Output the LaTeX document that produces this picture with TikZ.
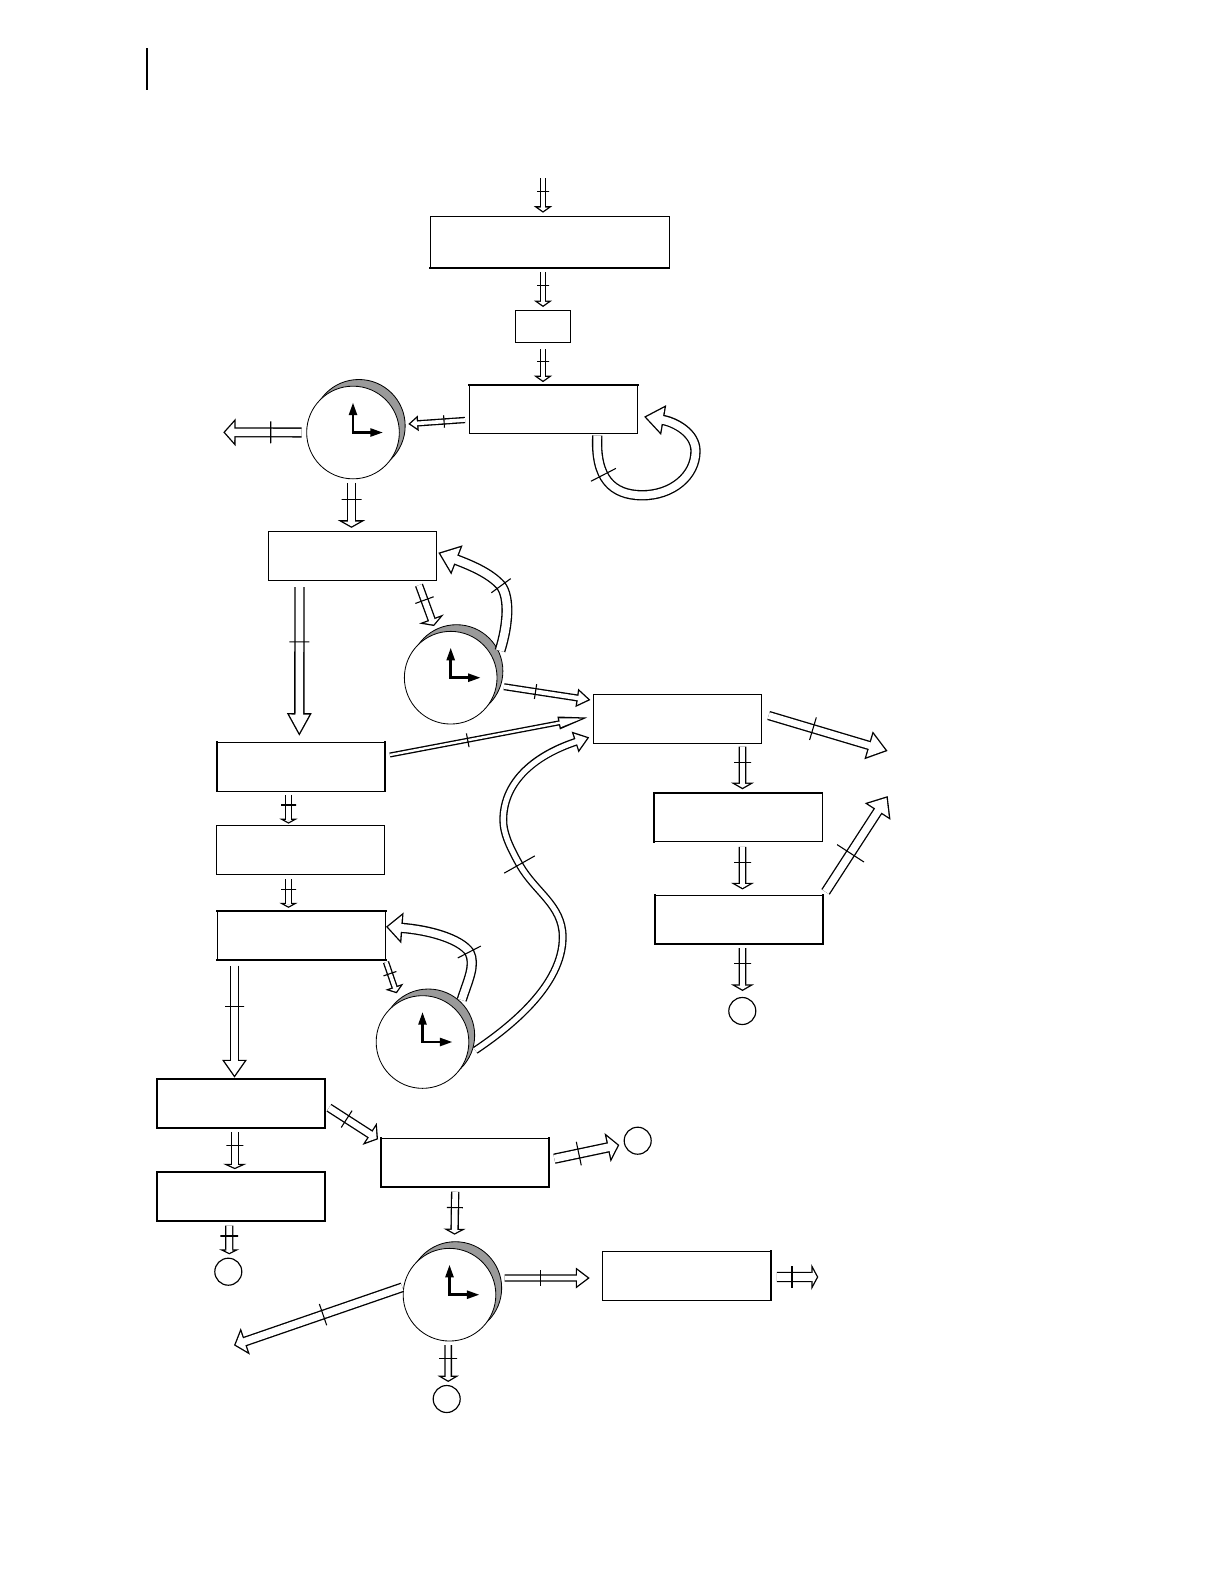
\documentclass[tikz,border=0pt]{standalone}
\usepackage{xcolor}
\usepackage{tikz}
\usetikzlibrary{arrows.meta,calc,shadows}
\definecolor{clockgray}{HTML}{9A9A9A}

\begin{document}
\begin{tikzpicture}[
  x=0.6pt,
  y=-0.6pt,
  box/.style={
    rectangle,
    draw=black,
    line width=0.6pt,
    fill=white,
    minimum width=101pt,
    minimum height=29.2pt,
    inner sep=0pt,
    outer sep=0pt
  },
  heavybox/.style={box, line width=1.2pt},
  heavyedge/.style={line width=1.2pt, line cap=rect},
  clock/.style={
    circle,
    draw=black,
    line width=0.5pt,
    fill=white,
    minimum size=55.6pt,
    inner sep=0pt,
    outer sep=0pt,
    general shadow={fill=clockgray, draw=black, shadow xshift=3.5pt, shadow yshift=4pt}
  },
  terminal/.style={
    circle,
    draw=black,
    line width=0.7pt,
    minimum size=16.2pt,
    inner sep=0pt,
    outer sep=0pt
  },
  clockhand/.style={
    line width=1.5pt,
    {Triangle[length=7.6pt,width=4.8pt]}-{Triangle[length=7.6pt,width=4.8pt]}
  },
  crossbar/.style={
    sloped,
    rectangle,
    draw=black,
    line width=0.65pt,
    minimum width=0pt,
    minimum height=#1*0.6pt,
    inner sep=0pt,
    outer sep=0pt
  },
  flow/.style n args={3}{
    /utils/exec={
      \pgfmathsetlengthmacro\flowback{0.8pt/sin(atan(#3*0.5/#2))}
      \pgfmathsetlengthmacro\flowlen{#2*0.6pt-\flowback-0.8pt}
      \pgfmathsetlengthmacro\flowwid{#3*\flowlen/#2}
      \pgfmathsetlengthmacro\flowoutlen{#2*0.6pt}
      \pgfmathsetlengthmacro\flowoutwid{#3*0.6pt}
      \pgfmathsetlengthmacro\flowouter{#1*0.6pt+0.8pt}
      \pgfmathsetlengthmacro\flowinner{#1*0.6pt-0.8pt}
    },
    preaction={
      draw=black,
      line width=\flowouter,
      shorten >=0pt,
      -{Triangle[length=\flowoutlen,width=\flowoutwid]}
    },
    draw=white,
    line width=\flowinner,
    shorten >=\flowback,
    -{Triangle[length=\flowlen,width=\flowwid]}
  }
]

\useasboundingbox (0,0) rectangle (1222,1584);

% margin bar
\draw[line width=1.2pt] (146.7,48) -- (146.7,90);

% boxes
\node[box, minimum width=143.2pt, minimum height=31.2pt] (boxA) at (549.7,242.3) {};
\node[box, minimum width=32.8pt, minimum height=19.4pt] (boxB) at (543.3,326.5) {};
\node[box] (boxC) at (553.5,409.2) {};
\node[box] (boxD) at (352.5,555.8) {};
\node[box] (boxE) at (677.5,718.8) {};
\node[box] (boxF) at (301,766.8) {};
\node[box] (boxG) at (300.3,850) {};
\node[box] (boxH) at (301.5,935.5) {};
\node[heavybox] (boxI) at (240.8,1103.5) {};
\node[box] (boxJ) at (738.2,817.3) {};
\node[box] (boxK) at (739,919.8) {};
\node[heavybox] (boxL) at (240.8,1196.5) {};
\node[box] (boxM) at (465.2,1162.7) {};
\node[box] (boxN) at (687,1275.8) {};

% heavier edges
\draw[heavyedge] (boxA.south west) -- (boxA.south east);
\draw[heavyedge] (boxC.north west) -- (boxC.north east);
\draw[heavyedge] (boxF.north west) -- (boxF.south west);
\draw[heavyedge] (boxF.north east) -- (boxF.south east);
\draw[heavyedge] (boxH.north west) -- (boxH.north east);
\draw[heavyedge] (boxH.south west) -- (boxH.south east);
\draw[heavyedge] (boxJ.south west) -- (boxJ.north west) -- (boxJ.north east);
\draw[heavyedge] (boxK.north west) -- (boxK.south west) -- (boxK.south east) -- (boxK.north east);
\draw[heavyedge] (boxM.north west) -- (boxM.south west) -- (boxM.south east) -- (boxM.north east);
\draw[heavyedge] (boxN.north east) -- (boxN.south east);

% clocks
\node[clock] (clockA) at (353,432.5) {};
\node[clock] (clockB) at (450.7,677.7) {};
\node[clock] (clockC) at (422.5,1042) {};
\node[clock] (clockD) at (449.5,1294.7) {};
\foreach \clk in {clockA,clockB,clockC,clockD}
  \draw[clockhand] ($(\clk.center)+(0,-30)$) -- (\clk.center) -- ($(\clk.center)+(30,0)$);

% end circles
\node[terminal] (endA) at (742.3,1011) {};
\node[terminal] (endB) at (228.3,1271.7) {};
\node[terminal] (endC) at (637.7,1140.7) {};
\node[terminal] (endD) at (446.7,1399) {};

% free ends
\coordinate (inflow) at (543,178);
\coordinate (exitA) at (223.3,432.3);
\coordinate (exitB) at (887.7,751);
\coordinate (exitC) at (234,1345.3);
\coordinate (exitD) at (818.3,1277);
\coordinate (exitE) at (887.7,796);

% top column
\draw[flow={5.3}{6.5}{18}] (inflow) -- node[crossbar=12, pos=.38] (t1) {} ($(boxA.north)+(-6.7,-3.6)$);
\draw[flow={5.3}{6.5}{18}] ($(boxA.south)+(-6.7,4)$) -- node[crossbar=12, pos=.37] (t2) {} ($(boxB.north)+(-.3,-3.3)$);
\draw[flow={5.3}{6.5}{18}] ($(boxB.south)+(-.3,6.6)$) -- node[crossbar=12, pos=.36] (t3) {} ($(boxC.north)+(-10.5,-2.7)$);
\draw[flow={5}{10}{15}] ($(boxC.west)+(-4.3,10.8)$) -- node[crossbar=12.5, pos=.37] (t4) {} ($(clockA.center)+(55.3,-8.5)$);
\draw[flow={8.7}{12.3}{27}] ($(clockA.center)+(-51.3,0)$) -- node[crossbar=22, pos=.395] (t5) {} (exitA);
\draw[flow={7.7}{7.7}{27}] ($(clockA.south)+(-1.5,4.1)$) -- node[crossbar=20, pos=.376] (t6) {} ($(boxD.north)+(-1,-3.6)$);
\draw[flow={9}{20}{29}] ($(boxC.south)+(43.8,2)$)
  .. controls (595,478) and (612,495) .. node[crossbar=28, pos=.4] (t7) {} (642,495.3)
  .. controls (672,495.3) and (695.5,476) .. (695.5,451)
  .. controls (695.5,433) and (675,422) .. ($(boxC.east)+(6.3,7.5)$);

% second level
\draw[flow={9}{23}{23}] ($(boxD.south)+(-53,7)$) -- node[crossbar=20, pos=.367] (t8) {} ($(boxF.north)+(-1.7,-6.3)$);
\draw[flow={7}{7.5}{26}] ($(boxD.south)+(66.5,5)$) -- node[crossbar=19.5, pos=.366] (t9) {} ($(clockB.center)+(-16.7,-51.7)$);
\draw[flow={9.6}{20}{30}] ($(clockB.center)+(49.3,-27)$)
  .. controls (508,625) and (510,598) .. node[crossbar=24, pos=1] (t10) {} (501,585.7)
  .. controls (490,573) and (470,565) .. ($(boxD.east)+(1.6,-3.1)$);
\draw[flow={5.7}{14}{17.6}] ($(clockB.center)+(53.3,9)$) -- node[crossbar=15, pos=.364] (t11) {} ($(boxE.west)+(-2.7,-18.8)$);
\draw[flow={3.7}{32}{11.5}] ($(boxF.east)+(4.7,-11.8)$) -- node[crossbar=14, pos=.389] (t12) {} ($(boxE.west)+(-3.3,-1.8)$);
\draw[flow={6.6}{15}{21}] ($(clockC.center)+(52.8,8.3)$)
  .. controls (510,1027) and (563,985) .. (562.7,936.7)
  .. controls (562.5,905) and (535,892) .. node[crossbar=35, pos=1] (t13) {} (519.5,864.5)
  .. controls (508,844) and (503.3,832) .. (503.3,820)
  .. controls (503.3,785) and (530,757) .. ($(boxE.west)+(-4,18.5)$);

% left column
\draw[flow={6.3}{5}{18}] ($(boxF.south)+(-12.5,3.7)$) -- node[crossbar=15, pos=.353] (t14) {} ($(boxG.north)+(-11.8,-2)$);
\draw[flow={6.3}{5}{18}] ($(boxG.south)+(-11.8,4.6)$) -- node[crossbar=15, pos=.366] (t15) {} ($(boxH.north)+(-13,-3.3)$);
\draw[flow={7.7}{18}{23.7}] ($(boxH.south)+(-67,5.7)$) -- node[crossbar=19, pos=.367] (t16) {} ($(boxI.north)+(-6.3,-1.4)$);
\draw[flow={5}{7}{18.7}] ($(boxH.south)+(84.5,2.3)$) -- node[crossbar=13.6, pos=.37] (t17) {} ($(clockC.center)+(-25.8,-48.7)$);
\draw[flow={9}{16.5}{30}] ($(clockC.center)+(39.2,-42)$)
  .. controls (468,980) and (476,965) .. node[crossbar=26, pos=1] (t18) {} (469.3,952)
  .. controls (460,939) and (430,930) .. ($(boxH.east)+(.3,-8.8)$);
\draw[flow={7}{5.3}{23}] ($(boxI.south)+(-6,4.4)$) -- node[crossbar=17, pos=.361] (t19) {} ($(boxL.north)+(-6,-3)$);
\draw[flow={7}{5}{20}] ($(boxL.south)+(-11.6,4.7)$) -- node[crossbar=17.7, pos=.364] (t20) {} ($(endB.north)+(.9,-3.9)$);
\draw[flow={7.7}{10}{25.7}] ($(boxI.east)+(4,4.2)$) -- node[crossbar=20, pos=.36] (t21) {} ($(boxM.west)+(-3,-23.4)$);

% bottom row
\draw[flow={9}{12}{29}] ($(boxM.east)+(5,-4)$) -- node[crossbar=24, pos=.376] (t22) {} ($(endC.west)+(-4.9,4.3)$);
\draw[flow={7}{6}{22}] ($(boxM.south)+(-10,4.7)$) -- node[crossbar=16, pos=.369] (t23) {} ($(clockD.north)+(5,-13.7)$);
\draw[flow={8.5}{12}{27.4}] ($(clockD.center)+(-47.2,-7.4)$) -- node[crossbar=22.5, pos=.471] (t24) {} (exitC);
\draw[flow={6}{14}{20}] ($(clockD.center)+(55.2,-16.7)$) -- node[crossbar=15.7, pos=.417] (t25) {} ($(boxN.west)+(-13,2.2)$);
\draw[flow={9}{7}{25.7}] ($(boxN.east)+(5.6,1.2)$) -- node[crossbar=21.7, pos=.366] (t26) {} (exitD);
\draw[flow={6.3}{6.3}{21}] ($(clockD.south)+(-1.3,4)$) -- node[crossbar=18, pos=.364] (t27) {} ($(endD.north)+(1.5,-3.5)$);

% right column
\draw[flow={8}{20}{27.8}] ($(boxE.east)+(7,-3.3)$) -- node[crossbar=23.6, pos=.372] (t28) {} (exitB);
\draw[flow={6.3}{6.7}{23}] ($(boxE.south)+(65,3.4)$) -- node[crossbar=17, pos=.376] (t29) {} ($(boxJ.north)+(4.3,-3.7)$);
\draw[flow={6.3}{6.7}{23}] ($(boxJ.south)+(4.3,5.3)$) -- node[crossbar=17, pos=.37] (t30) {} ($(boxK.north)+(3.5,-6)$);
\draw[flow={6.3}{6.7}{23}] ($(boxK.south)+(3.5,4)$) -- node[crossbar=17, pos=.368] (t31) {} ($(endA.north)+(.2,-6.5)$);
\draw[flow={8.7}{18.5}{29.4}] ($(boxK.north east)+(2.4,-3.6)$) -- node[crossbar=32, pos=.402] (t32) {} (exitE);

\end{tikzpicture}
\end{document}
